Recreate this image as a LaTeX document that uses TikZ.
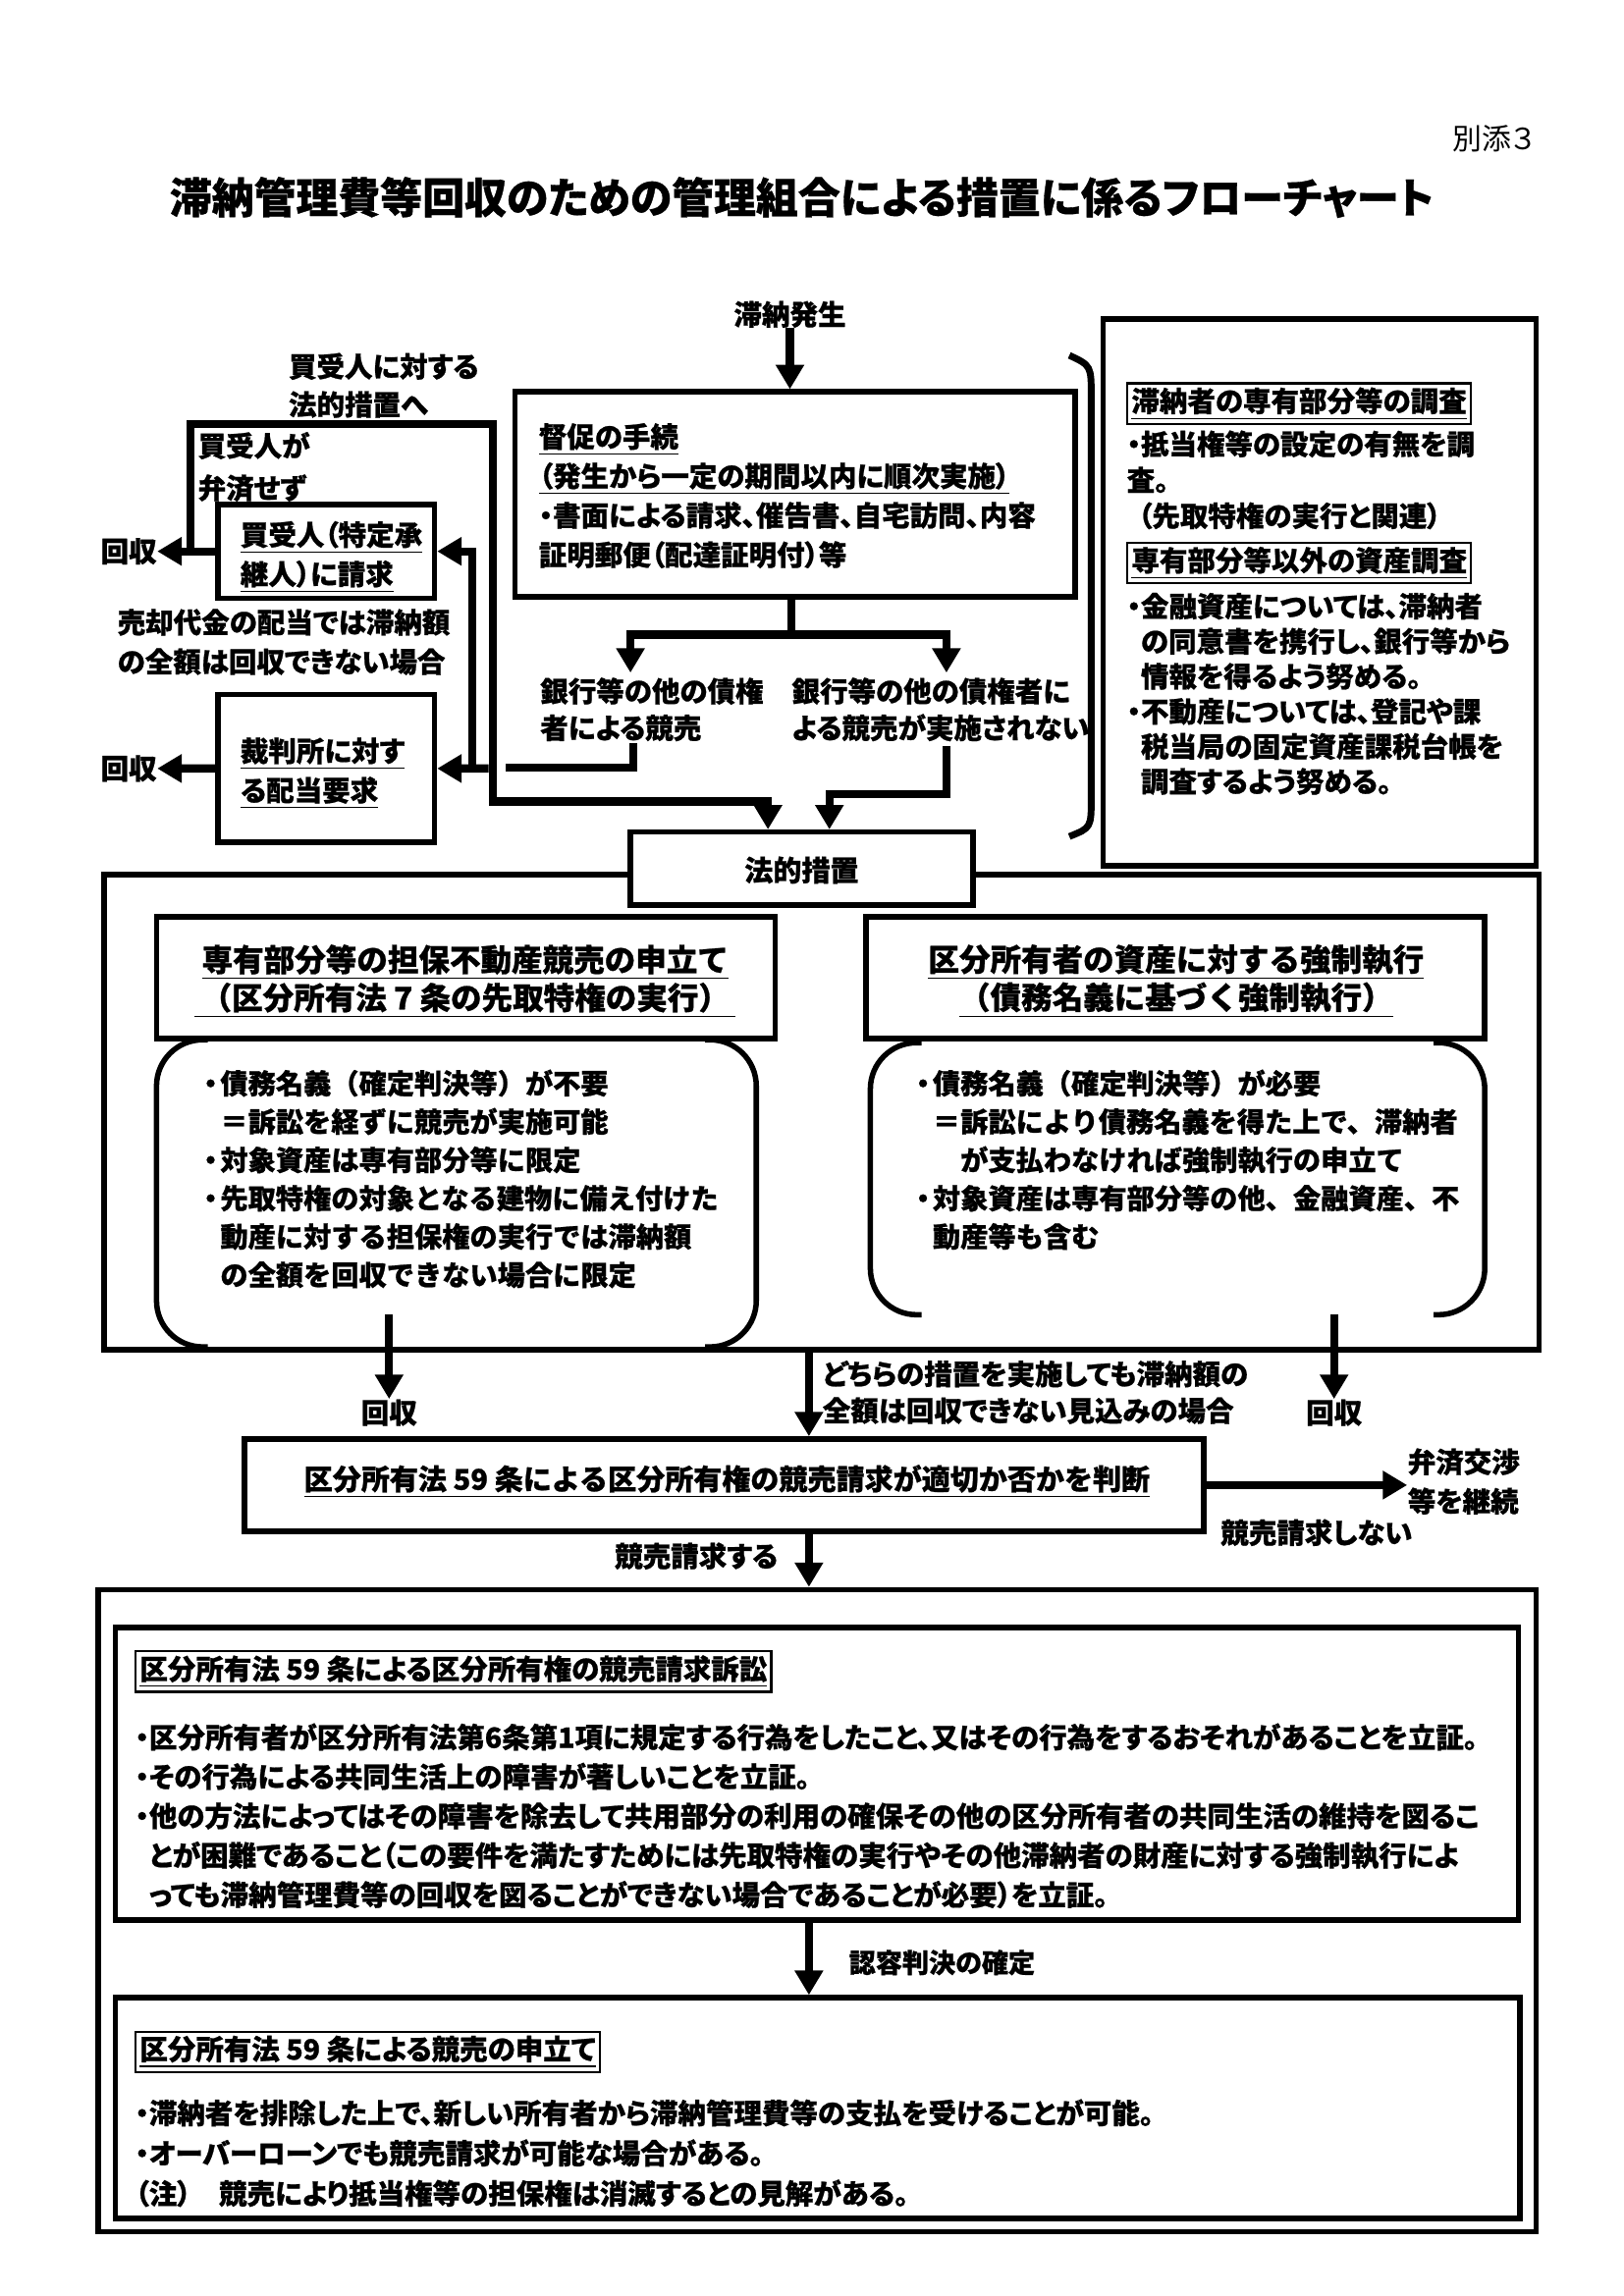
\documentclass[tikz,border=0pt]{standalone}
\usepackage{fontspec}
\setmainfont{Noto Sans CJK JP}[RawFeature=+palt, BoldFeatures={FakeBold=0.8}]
\newfontfamily\jpfw{Noto Sans CJK JP}[BoldFeatures={FakeBold=0.8}]
\usetikzlibrary{arrows.meta,fit}
\newcommand\fsz[2]{\fontsize{#1}{#2}\selectfont}
\newcommand\bu{\makebox[0.7em][l]{\hspace{-0.15em}・}}
\begin{document}
\begin{tikzpicture}[x=0.018919cm,y=-0.018919cm,
  box/.style={draw, line width=2pt, inner sep=0pt},
  conn/.style={line width=3pt},
  arr/.style={line width=3pt, -{Triangle[length=9pt,width=10pt]}},
  tx/.style={inner sep=0pt, align=left, anchor=north west},
  lbl/.style={inner sep=0pt, font=\bfseries\fsz{10.3}{12}},
  hd/.style={inner sep=0pt, align=center, font=\jpfw\bfseries\fsz{11.4}{14}},
  frm/.style={draw, line width=0.8pt, inner sep=1.5pt, anchor=west, font=\bfseries\fsz{10.3}{12}}]
\useasboundingbox (0,0) rectangle (1110,1570);

% header
\node[inner sep=0pt, font=\fsz{10.8}{12}] (betsu) at (1021,95) {別添３};
\node[inner sep=0pt, font=\bfseries\fsz{15.5}{18}] (title) at (548,135) {滞納管理費等回収のための管理組合による措置に係るフローチャート};

% top flow
\node[lbl] (hassei) at (540,215) {滞納発生};
\node[box, fit={(352,268) (735,408)}] (tok) {};
\node[tx, font=\bfseries\fsz{10.3}{14.5}] (toktx) at (368,289) {\underline{督促の手続}\\\underline{（発生から一定の期間以内に順次実施）}\\・書面による請求、催告書、自宅訪問、内容\\証明郵便（配達証明付）等};
\draw[arr] (hassei.south) -- (hassei.south |- tok.north);

\coordinate (sp) at (541,434);
\coordinate (spl) at (431,460);
\coordinate (spr) at (647,460);
\draw[conn] (sp |- tok.south) -- (sp);
\draw[arr] (sp) -| (spl);
\draw[arr] (sp) -| (spr);

\node[tx, font=\bfseries\fsz{10.3}{13.5}] (lblA) at (369,463) {銀行等の他の債権\\者による競売};
\node[tx, font=\bfseries\fsz{10.3}{13.5}] (lblB) at (541,463) {銀行等の他の債権者に\\よる競売が実施されない};

% legal measures container and box
\node[box, fit={(71,598) (1052,923)}] (cont) {};
\node[box, fill=white, fit={(431,569) (665,619)}] (hou) {};
\node[lbl, font=\bfseries\fsz{10.5}{12}] (houtx) at (548,595) {法的措置};

\coordinate (a1) at (433,508);
\coordinate (a2) at (346,525);
\draw[conn] (a1) |- (a2);
\coordinate (b1) at (647,510);
\coordinate (b2) at (567,543);
\draw[arr] (b1) |- (b2) -- (b2 |- hou.north);

% left side: buyer
\node[box, fit={(149,345) (297,409)}] (kai) {};
\node[tx, font=\bfseries\fsz{10.3}{14.5}] (kaitx) at (164,356) {\underline{買受人（特定承}\\\underline{継人）に請求}};
\node[box, fit={(149,475) (297,576)}] (saib) {};
\node[tx, font=\bfseries\fsz{10.3}{14.5}] (saibtx) at (164,504) {\underline{裁判所に対す}\\\underline{る配当要求}};
\node[lbl] (kaishu1) at (88,377) {回収};
\node[lbl] (kaishu2) at (88,525.5) {回収};
\draw[arr] (kai.west) -- (kaishu1.east);
\draw[arr] (saib.west) -- (kaishu2.east);

\coordinate (c1) at (130,377);
\coordinate (c2) at (337,290);
\coordinate (c3) at (525,548);
\draw[arr] (c1) |- (c2) |- (c3) -- (c3 |- hou.north);

\coordinate (d0) at (334,525.5);
\coordinate (d1) at (323,525.5);
\draw[arr] (d1) |- (kai.east);
\draw[arr] (d0) -- (saib.east);

\node[tx, font=\bfseries\fsz{10.3}{14.5}] (urik) at (80,416) {売却代金の配当では滞納額\\の全額は回収できない場合};
\node[tx, font=\bfseries\fsz{10.3}{14}] (kaiuke) at (197,241) {買受人に対する\\法的措置へ};
\node[tx, font=\bfseries\fsz{10.3}{15.5}] (bensai) at (135,295) {買受人が\\弁済せず};

% bracket
\draw[line width=2.5pt] (731,243) .. controls (746,250) .. (746,272) -- (746,545) .. controls (746,566) .. (731,572);

% right info box
\node[box, fit={(754,218) (1050,592)}] (info) {};
\node[frm] (f1) at (770,276) {\underline{滞納者の専有部分等の調査}};
\node[tx, font=\bfseries\fsz{10.3}{13.2}] (i1) at (770,294) {・抵当権等の設定の有無を調\\査。\\\hspace{0.4em}（先取特権の実行と関連）};
\node[frm] (f2) at (770,385) {\underline{専有部分等以外の資産調査}};
\node[tx, font=\bfseries\fsz{10.3}{12.9}] (i2) at (770,405) {・金融資産については、滞納者\\\phantom{・}の同意書を携行し、銀行等から\\\phantom{・}情報を得るよう努める。\\・不動産については、登記や課\\\phantom{・}税当局の固定資産課税台帳を\\\phantom{・}調査するよう努める。};

% two measures
\node[box, fit={(107,627) (530,710)}] (hdL) {};
\node[hd] (hdLt) at (318,671) {\underline{専有部分等の担保不動産競売の申立て}\\\underline{\hspace{0.2em}（区分所有法 7 条の先取特権の実行）\hspace{0.2em}}};
\node[box, fit={(592,627) (1015,710)}] (hdR) {};
\node[hd] (hdRt) at (804,671) {\underline{区分所有者の資産に対する強制執行}\\\underline{（債務名義に基づく強制執行）}};

\draw[line width=2pt, rounded corners=17pt] (142,711) -- (107,711) -- (107,921) -- (142,921);
\draw[line width=2pt, rounded corners=17pt] (482,711) -- (517,711) -- (517,921) -- (482,921);
\draw[line width=2pt, rounded corners=17pt] (630,713) -- (595,713) -- (595,899) -- (630,899);
\draw[line width=2pt, rounded corners=17pt] (980,713) -- (1015,713) -- (1015,899) -- (980,899);

\node[tx, font=\jpfw\bfseries\fsz{10.2}{14.1}] (bL) at (137,731) {\bu 債務名義（確定判決等）が不要\\\hspace{0.7em}＝訴訟を経ずに競売が実施可能\\\bu 対象資産は専有部分等に限定\\\bu 先取特権の対象となる建物に備え付けた\\\hspace{0.7em}動産に対する担保権の実行では滞納額\\\hspace{0.7em}の全額を回収できない場合に限定};
\node[tx, font=\jpfw\bfseries\fsz{10.2}{14.1}] (bR) at (624,731) {\bu 債務名義（確定判決等）が必要\\\hspace{0.7em}＝訴訟により債務名義を得た上で、滞納者\\\hspace{1.7em}が支払わなければ強制執行の申立て\\\bu 対象資産は専有部分等の他、金融資産、不\\\hspace{0.7em}動産等も含む};

\node[lbl] (k3) at (266,966) {回収};
\node[lbl] (k4) at (912,966) {回収};
\coordinate (e1) at (266,899);
\coordinate (e2) at (912,899);
\draw[arr] (e1) -- (k3.north);
\draw[arr] (e2) -- (k4.north);

% judgement
\coordinate (m1) at (553,923);
\node[box, fit={(167,984) (823,1047)}] (judge) {};
\node[inner sep=0pt, font=\jpfw\bfseries\fsz{10.5}{12}] (judgetx) at (497,1013) {\underline{区分所有法 59 条による区分所有権の競売請求が適切か否かを判断}};
\draw[arr] (m1) -- (m1 |- judge.north);
\node[tx, font=\bfseries\fsz{10.3}{13.5}] (dochira) at (562,930) {どちらの措置を実施しても滞納額の\\全額は回収できない見込みの場合};

\node[tx, font=\bfseries\fsz{10.3}{14.5}] (bensai2) at (962,990) {弁済交渉\\等を継続};
\draw[arr] (judge.east) -- (judge.east -| bensai2.west);
\node[lbl] (nosell) at (900,1048) {競売請求しない};

% bottom
\node[box, fit={(67,1087) (1050,1526)}] (big) {};
\node[box, fit={(79,1113) (1038,1313)}] (in1) {};
\node[box, fit={(79,1366) (1039,1517)}] (in2) {};
\draw[arr] (judge.south -| m1) -- (m1 |- big.north);
\node[lbl] (sell) at (476,1064) {競売請求する};

\node[frm] (f3) at (92,1143) {\underline{区分所有法 59 条による区分所有権の競売請求訴訟}};
\node[tx, font=\bfseries\fsz{10.3}{14.5}] (t3) at (92,1178) {・区分所有者が区分所有法第6条第1項に規定する行為をしたこと、又はその行為をするおそれがあることを立証。\\・その行為による共同生活上の障害が著しいことを立証。\\・他の方法によってはその障害を除去して共用部分の利用の確保その他の区分所有者の共同生活の維持を図るこ\\\phantom{・}とが困難であること（この要件を満たすためには先取特権の実行やその他滞納者の財産に対する強制執行によ\\\phantom{・}っても滞納管理費等の回収を図ることができない場合であることが必要）を立証。};

\draw[arr] (in1.south -| m1) -- (m1 |- in2.north);
\node[inner sep=0pt, anchor=west, font=\bfseries\fsz{9.8}{12}] (nintei) at (580,1342) {認容判決の確定};

\node[frm] (f4) at (92,1403) {\underline{区分所有法 59 条による競売の申立て}};
\node[tx, font=\bfseries\fsz{10.3}{14.8}] (t4) at (92,1435) {・滞納者を排除した上で、新しい所有者から滞納管理費等の支払を受けることが可能。\\・オーバーローンでも競売請求が可能な場合がある。\\（注）　競売により抵当権等の担保権は消滅するとの見解がある。};
\end{tikzpicture}
\end{document}
